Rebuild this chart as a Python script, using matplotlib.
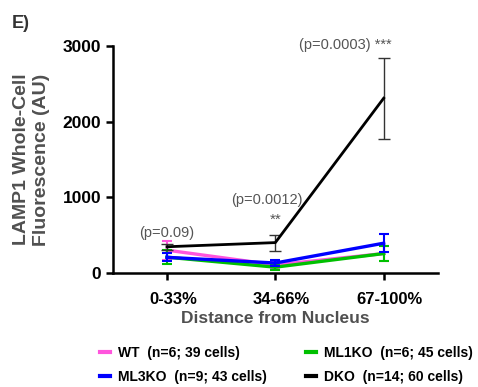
import numpy as np
import matplotlib
matplotlib.use("Agg")
import matplotlib.pyplot as plt
from matplotlib.transforms import ScaledTranslation

plt.rcParams['font.family'] = ['Liberation Sans', 'DejaVu Sans']

# Data
categories = ["0-33%", "34-66%", "67-100%"]
labels = {
    "WT": "WT  (n=6; 39 cells)",
    "ML1KO": "ML1KO  (n=6; 45 cells)",
    "ML3KO": "ML3KO  (n=9; 43 cells)",
    "DKO": "DKO  (n=14; 60 cells)",
}
wt_mean = [300, 105, 255]
wt_err = [125, 40, 105]
ml1_mean = [207, 75, 255]
ml1_err = [90, 35, 105]
ml3_mean = [205, 130, 392]
ml3_err = [55, 45, 120]
dko_mean = [345, 400, 2310]
dko_err = [40, 105, 535]

pvals = ["(p=0.09)", "(p=0.0012)", "(p=0.0003) ***"]
stars = ["", "**", ""]

colors = {"WT": "#ff55dd", "ML1KO": "#00c000", "ML3KO": "#0000ff", "DKO": "#000000"}

fig = plt.figure(figsize=(4.78, 3.87), dpi=100)
ax = fig.add_axes([0.236, 0.295, 0.68, 0.586])

x = np.arange(len(categories))
series = [("WT", wt_mean, wt_err), ("ML1KO", ml1_mean, ml1_err),
          ("ML3KO", ml3_mean, ml3_err), ("DKO", dko_mean, dko_err)]
handles = {}
for name, m, e in series:
    c = colors[name]
    if name == "DKO":
        ax.errorbar(x, m, yerr=e, color="#333333", lw=0, elinewidth=1.0,
                    capsize=4, capthick=1.0, zorder=4)
        h, = ax.plot(x, m, color=c, lw=2.0, zorder=5)
    else:
        ax.errorbar(x, m, yerr=e, color=c, lw=0, elinewidth=1.5,
                    capsize=3.5, capthick=1.5, zorder=3)
        h, = ax.plot(x, m, color=c, lw=2.4, zorder=3)
    handles[name] = h

# p-value annotations
txt_c = "#555555"
ax.text(0.0, 528, pvals[0], ha="center", va="center", fontsize=10.5, color=txt_c)
ax.text(0.92, 964, pvals[1], ha="center", va="center", fontsize=10.5, color=txt_c)
ax.text(1.0, 700, stars[1], ha="center", va="center", fontsize=11, color=txt_c)
ax.text(1.65, 3010, pvals[2], ha="center", va="center", fontsize=10.5, color=txt_c)

ax.set_xlim(-0.5, 2.5)
ax.set_ylim(0, 3000)
ax.set_yticks([0, 1000, 2000, 3000])
ax.set_xticks(x)
ax.set_xticklabels(categories)
for s in ["top", "right"]:
    ax.spines[s].set_visible(False)
for s in ["left", "bottom"]:
    ax.spines[s].set_linewidth(1.8)
ax.tick_params(axis="both", width=1.8, length=5)
ax.tick_params(axis="y", labelsize=12.5)
ax.tick_params(axis="x", labelsize=12, pad=9)
shift = ScaledTranslation(6 / 100, 0, fig.dpi_scale_trans)
for lab in ax.get_xticklabels():
    lab.set_fontweight("bold")
    lab.set_transform(lab.get_transform() + shift)
for lab in ax.get_yticklabels():
    lab.set_fontweight("bold")

ax.set_xlabel("Distance from Nucleus", fontsize=12.5, fontweight="bold",
              color="#505050", labelpad=3)
ax.set_ylabel("LAMP1 Whole-Cell\nFluorescence (AU)", fontsize=14,
              fontweight="bold", color="#505050", labelpad=9, linespacing=1.2)

fig.text(0.025, 0.939, "E)", fontsize=13, fontweight="bold", color="#333333",
         va="center")

order = ["WT", "ML3KO", "ML1KO", "DKO"]
fig.legend([handles[k] for k in order], [labels[k] for k in order],
           loc="center", bbox_to_anchor=(0.6, 0.057), ncol=2, frameon=False,
           prop={"weight": "bold", "size": 10}, handlelength=0.7,
           handletextpad=0.6, columnspacing=2.8, labelspacing=0.75)
for h in fig.legends[0].legend_handles:
    h.set_linewidth(3)

fig.savefig("out.png", dpi=100)
